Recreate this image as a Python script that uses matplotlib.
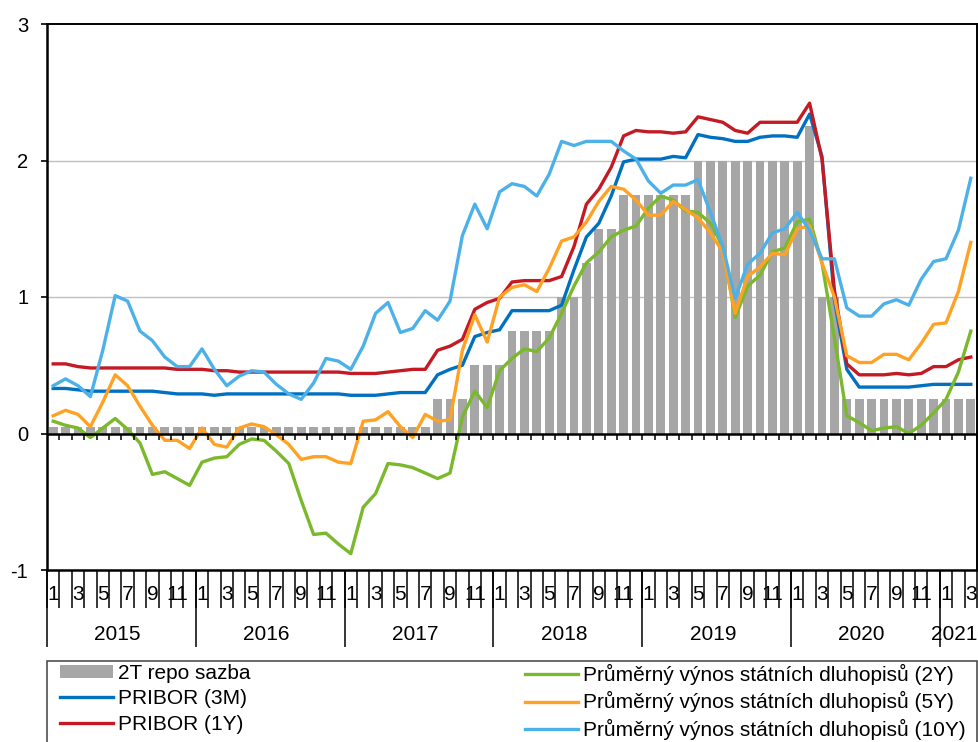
import numpy as np
import matplotlib
matplotlib.use("Agg")
import matplotlib.pyplot as plt
from matplotlib.patches import Rectangle, Patch
from matplotlib.lines import Line2D

plt.rcParams['font.family'] = ['Liberation Sans', 'DejaVu Sans']

# monthly data, 1/2015 - 3/2021
years = ['2015', '2016', '2017', '2018', '2019', '2020', '2021']
n_months = 75
month_no = [(m % 12) + 1 for m in range(n_months)]

repo = [0.05] * 31 + [0.25] * 3 + [0.5] * 3 + [0.75] * 4 + [1.0] * 2 + [1.25] + \
       [1.5] * 2 + [1.75] * 6 + [2.0] * 9 + [2.25] + [1.0] * 2 + [0.25] * 11

pribor_3m = [0.33, 0.33, 0.32, 0.31, 0.31, 0.31, 0.31, 0.31, 0.31, 0.30,
             0.29, 0.29, 0.29, 0.28, 0.29, 0.29, 0.29, 0.29, 0.29, 0.29,
             0.29, 0.29, 0.29, 0.29, 0.28, 0.28, 0.28, 0.29, 0.30, 0.30,
             0.30, 0.43, 0.47, 0.50, 0.71, 0.74, 0.76, 0.90, 0.90, 0.90,
             0.90, 0.94, 1.20, 1.44, 1.54, 1.74, 1.99, 2.01, 2.01, 2.01,
             2.03, 2.02, 2.19, 2.17, 2.16, 2.14, 2.14, 2.17, 2.18, 2.18,
             2.17, 2.34, 2.03, 0.98, 0.47, 0.34, 0.34, 0.34, 0.34, 0.34,
             0.35, 0.36, 0.36, 0.36, 0.36]

pribor_1y = [0.51, 0.51, 0.49, 0.48, 0.48, 0.48, 0.48, 0.48, 0.48, 0.48,
             0.47, 0.47, 0.47, 0.46, 0.46, 0.45, 0.45, 0.45, 0.45, 0.45,
             0.45, 0.45, 0.45, 0.45, 0.44, 0.44, 0.44, 0.45, 0.46, 0.47,
             0.47, 0.61, 0.64, 0.69, 0.91, 0.96, 0.99, 1.11, 1.12, 1.12,
             1.12, 1.15, 1.37, 1.68, 1.79, 1.95, 2.18, 2.22, 2.21, 2.21,
             2.20, 2.21, 2.32, 2.30, 2.28, 2.22, 2.20, 2.28, 2.28, 2.28,
             2.28, 2.42, 2.01, 1.05, 0.51, 0.43, 0.43, 0.43, 0.44, 0.43,
             0.44, 0.49, 0.49, 0.54, 0.56]

bond_2y = [0.09, 0.06, 0.04, -0.03, 0.04, 0.11, 0.03, -0.07, -0.30, -0.28,
           -0.33, -0.38, -0.21, -0.18, -0.17, -0.08, -0.04, -0.05, -0.13, -0.22,
           -0.49, -0.74, -0.73, -0.81, -0.88, -0.54, -0.44, -0.22, -0.23, -0.25,
           -0.29, -0.33, -0.29, 0.12, 0.31, 0.19, 0.46, 0.55, 0.62, 0.60,
           0.70, 0.88, 1.08, 1.25, 1.33, 1.44, 1.49, 1.52, 1.65, 1.74,
           1.71, 1.63, 1.62, 1.54, 1.37, 0.85, 1.08, 1.16, 1.33, 1.36,
           1.55, 1.57, 1.25, 0.70, 0.13, 0.08, 0.02, 0.04, 0.05, 0.00,
           0.06, 0.15, 0.25, 0.45, 0.75]

bond_5y = [0.13, 0.17, 0.14, 0.05, 0.23, 0.43, 0.35, 0.20, 0.06, -0.05,
           -0.05, -0.11, 0.04, -0.08, -0.10, 0.04, 0.07, 0.05, -0.01, -0.08,
           -0.19, -0.17, -0.17, -0.21, -0.22, 0.09, 0.10, 0.16, 0.05, -0.03,
           0.14, 0.09, 0.10, 0.61, 0.87, 0.67, 1.00, 1.07, 1.09, 1.04,
           1.21, 1.41, 1.44, 1.55, 1.70, 1.81, 1.79, 1.71, 1.60, 1.60,
           1.70, 1.64, 1.58, 1.47, 1.33, 0.88, 1.15, 1.22, 1.32, 1.31,
           1.50, 1.52, 1.25, 1.00, 0.57, 0.52, 0.52, 0.58, 0.58, 0.54,
           0.66, 0.80, 0.81, 1.04, 1.40]

bond_10y = [0.35, 0.40, 0.35, 0.27, 0.61, 1.01, 0.97, 0.75, 0.68, 0.56,
            0.49, 0.49, 0.62, 0.47, 0.35, 0.42, 0.46, 0.45, 0.36, 0.29,
            0.25, 0.37, 0.55, 0.53, 0.47, 0.64, 0.88, 0.96, 0.74, 0.77,
            0.90, 0.83, 0.97, 1.45, 1.68, 1.50, 1.77, 1.83, 1.81, 1.74,
            1.90, 2.14, 2.11, 2.14, 2.14, 2.14, 2.07, 2.01, 1.85, 1.76,
            1.82, 1.82, 1.86, 1.62, 1.37, 0.99, 1.24, 1.32, 1.47, 1.50,
            1.62, 1.49, 1.28, 1.28, 0.92, 0.86, 0.86, 0.95, 0.98, 0.94,
            1.13, 1.26, 1.28, 1.49, 1.87]

labels = ['2T repo sazba', 'PRIBOR (3M)', 'PRIBOR (1Y)',
          'Průměrný výnos státních dluhopisů (2Y)',
          'Průměrný výnos státních dluhopisů (5Y)',
          'Průměrný výnos státních dluhopisů (10Y)']

c_bar = '#a6a6a6'
c_3m = '#0070c0'
c_1y = '#c31a24'
c_2y = '#7ab82c'
c_5y = '#ffa224'
c_10y = '#4cb1e9'
lw = 2.4

W, H = 979, 742
fig = plt.figure(figsize=(W / 100, H / 100), dpi=100)
ax = fig.add_axes([47 / W, (H - 570) / H, 930 / W, 546 / H])

x = np.arange(n_months)

for yv in [1, 2]:
    ax.axhline(yv, color='#c0c0c0', lw=1, zorder=0)

ax.bar(x, repo, width=0.72, color=c_bar, zorder=1)
ax.plot(x, pribor_3m, color=c_3m, lw=lw, zorder=3)
ax.plot(x, pribor_1y, color=c_1y, lw=lw, zorder=3)
ax.plot(x, bond_2y, color=c_2y, lw=lw, zorder=3)
ax.plot(x, bond_5y, color=c_5y, lw=lw, zorder=3)
ax.plot(x, bond_10y, color=c_10y, lw=lw, zorder=3)

ax.axhline(0, color='black', lw=1.8, zorder=4)
bounds = np.arange(-0.5, n_months, 1)
ax.vlines(bounds, -0.05, 0, color='black', lw=1.1, zorder=4)

ax.set_xlim(-0.5, n_months - 0.5)
ax.set_ylim(-1, 3)

ax.set_yticks([-1, 0, 1, 2, 3])
ax.set_yticklabels(['-1', '0', '1', '2', '3'], fontsize=14.5)
ax.tick_params(axis='y', length=4.5, width=1.2, pad=9)

ax.set_xticks(bounds)
ax.set_xticklabels([])
ax.tick_params(axis='x', length=27.4, width=1.1)

for s in ['left', 'bottom']:
    ax.spines[s].set_linewidth(1.8)
for s in ['top', 'right']:
    ax.spines[s].set_linewidth(1.4)

trans = ax.get_xaxis_transform()
for i in range(n_months):
    if month_no[i] % 2 == 1:
        ax.text(i, -25 / 546, str(month_no[i]), transform=trans,
                ha='center', va='center', fontsize=15)

year_lines = [-0.5, 11.5, 23.5, 35.5, 47.5, 59.5, 71.5]
ax.vlines(year_lines, -77 / 546, 0, transform=trans, color='black',
          lw=1.1, clip_on=False)
for k, yr in enumerate(years):
    start = year_lines[k]
    end = year_lines[k + 1] if k + 1 < len(year_lines) else n_months - 0.5
    ax.text((start + end) / 2 - 0.3, -64 / 546, yr, transform=trans,
            ha='center', va='center', fontsize=15)

# legend
h_bar = Patch(facecolor=c_bar, edgecolor='none')
h_3m = Line2D([], [], color=c_3m, lw=lw)
h_1y = Line2D([], [], color=c_1y, lw=lw)
h_2y = Line2D([], [], color=c_2y, lw=lw)
h_5y = Line2D([], [], color=c_5y, lw=lw)
h_10y = Line2D([], [], color=c_10y, lw=lw)

leg_kw = dict(loc='upper left', frameon=False, borderpad=0, borderaxespad=0,
              fontsize=15, handlelength=2.55, handletextpad=0.25,
              labelspacing=0.3, handleheight=0.55)
leg1 = fig.legend([h_bar, h_3m, h_1y], labels[:3],
                  bbox_to_anchor=(60 / W, 1 - 664 / H), **leg_kw)
leg2 = fig.legend([h_2y, h_5y, h_10y], labels[3:],
                  bbox_to_anchor=(525 / W, 1 - 664 / H), **leg_kw)

box = Rectangle((47 / W, -0.05), 930 / W, (H - 661) / H + 0.05,
                transform=fig.transFigure, fill=False, edgecolor='#404040',
                lw=1.1)
fig.patches.append(box)

fig.savefig('out.png', dpi=100)
